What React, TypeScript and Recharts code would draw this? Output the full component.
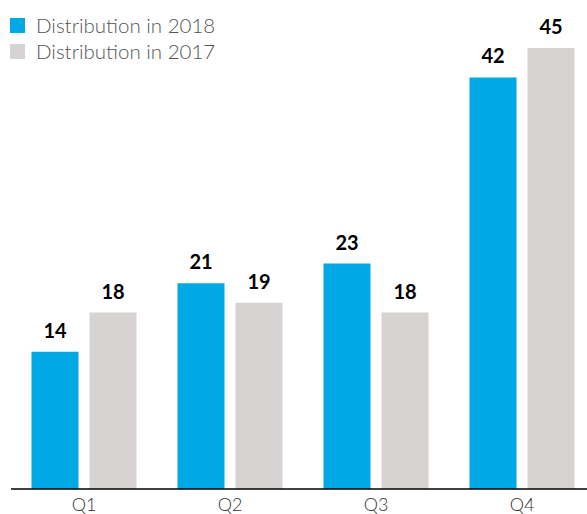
import { Bar, BarChart, LabelList, XAxis, YAxis } from "recharts";

const quarters = ["Q1", "Q2", "Q3", "Q4"];
const values2018 = [14, 21, 23, 42];
const values2017 = [18, 19, 18, 45];
const seriesNames = ["Distribution in 2018", "Distribution in 2017"];

const data = quarters.map((q, i) => ({
  quarter: q,
  d2018: values2018[i],
  d2017: values2017[i],
}));

const BLUE = "#00a9e6";
const GREY = "#d7d3d2";

function LegendBox() {
  const colors = [BLUE, GREY];
  return (
    <div
      style={{
        position: "absolute",
        left: 10,
        top: 12,
        fontFamily: "Lato, sans-serif",
        zIndex: 2,
      }}
    >
      {seriesNames.map((name, i) => (
        <div key={name} style={{ display: "flex", alignItems: "center", height: 26 }}>
          <span
            style={{
              width: 15,
              height: 15,
              background: colors[i],
              marginRight: 11,
              display: "inline-block",
            }}
          />
          <span style={{ fontSize: 20.5, color: "#555", fontWeight: 300 }}>{name}</span>
        </div>
      ))}
    </div>
  );
}

export default function App() {
  return (
    <div
      style={{
        position: "absolute",
        left: 0,
        top: 0,
        width: 587,
        height: 514,
        overflow: "hidden",
        background: "#fff",
      }}
    >
      <LegendBox />
      <BarChart
        width={595}
        height={514}
        data={data}
        margin={{ top: 48, right: 0, bottom: 0, left: 11 }}
        barCategoryGap={20.5}
        barGap={11}
      >
        <XAxis
          dataKey="quarter"
          height={25}
          tickLine={false}
          tickSize={0}
          tickMargin={9}
          axisLine={{ stroke: "#000", strokeWidth: 1.5 }}
          tick={{ fill: "#333", fontSize: 18, fontFamily: "Lato, sans-serif", fontWeight: 300 }}
        />
        <YAxis hide domain={[0, 45]} />
        <Bar dataKey="d2018" fill={BLUE} isAnimationActive={false}>
          <LabelList
            dataKey="d2018"
            position="top"
            offset={14}
            fill="#000"
            fontSize={20}
            fontWeight={700}
            fontFamily="Lato, sans-serif"
          />
        </Bar>
        <Bar dataKey="d2017" fill={GREY} isAnimationActive={false}>
          <LabelList
            dataKey="d2017"
            position="top"
            offset={14}
            fill="#000"
            fontSize={20}
            fontWeight={700}
            fontFamily="Lato, sans-serif"
          />
        </Bar>
      </BarChart>
    </div>
  );
}
